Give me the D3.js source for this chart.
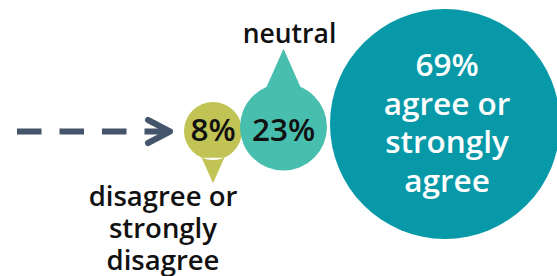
<!DOCTYPE html>
<html>
<head>
<meta charset="utf-8">
<script src="https://cdn.jsdelivr.net/npm/d3@7"></script>
<style>
  html, body { margin: 0; padding: 0; background: #fff; }
  svg { display: block; font-family: 'Open Sans', sans-serif; }
</style>
</head>
<body>
<div id="chart"></div>
<script>
// data
const categories = ['disagree', 'neutral', 'agree'];
const values = [8, 23, 69];
const labelLines = [
  ['disagree or', 'strongly', 'disagree'],
  ['neutral'],
  ['agree or', 'strongly', 'agree']
];
const colors = ['#c1c455', '#48bfae', '#0899a9'];

const width = 557, height = 276;

const svg = d3.select('#chart').append('svg')
  .attr('width', width)
  .attr('height', height);

// bubble size scale
const r = d3.scaleLinear().domain(values).range([29, 43.5, 115]);
const cyPos = [131, 127, 124];
const gaps = [-2, 3];

// pack circles left to right
const nodes = [];
let x0 = 184;
values.forEach(function (v, i) {
  const rad = r(v);
  const cx = x0 + rad;
  nodes.push({ cat: categories[i], value: v, r: rad, cx: cx, cy: cyPos[i], color: colors[i], lines: labelLines[i] });
  x0 = cx + rad + (gaps[i] || 0);
});

// pin shape: circle + pointer (dir: 1 down, -1 up, 0 none)
const pointerDir = [1, -1, 0];
function pinPath(d, dir) {
  const p = d3.path();
  p.arc(d.cx, d.cy, d.r, 0, Math.PI * 2);
  p.closePath();
  if (dir !== 0) {
    const a = 23 * Math.PI / 180;
    const tip = d.r * 1.8;
    p.moveTo(d.cx - d.r * Math.sin(a), d.cy + dir * d.r * Math.cos(a));
    p.lineTo(d.cx, d.cy + dir * tip);
    p.lineTo(d.cx + d.r * Math.sin(a), d.cy + dir * d.r * Math.cos(a));
    p.closePath();
  }
  return p.toString();
}

svg.selectAll('.bubble')
  .data(nodes)
  .enter().append('path')
  .attr('class', 'bubble')
  .attr('d', function (d, i) { return pinPath(d, pointerDir[i]); })
  .attr('fill', function (d) { return d.color; });

// percentage labels for the two small bubbles
svg.selectAll('.pct')
  .data(nodes.slice(0, 2))
  .enter().append('text')
  .attr('class', 'pct')
  .attr('x', function (d) { return d.cx; })
  .attr('y', 130)
  .attr('dy', '0.36em')
  .attr('text-anchor', 'middle')
  .attr('font-size', 31.5)
  .attr('font-weight', 600)
  .attr('fill', '#111')
  .text(function (d) { return d.value + '%'; });

// small bubble label below
const small = nodes[0];
const lowLabel = svg.append('text')
  .attr('text-anchor', 'middle')
  .attr('font-size', 27.5)
  .attr('font-weight', 600)
  .attr('fill', '#111');
small.lines.forEach(function (t, i) {
  lowLabel.append('tspan')
    .attr('x', 163)
    .attr('y', 206 + i * 32)
    .text(t);
});

// neutral label above
const mid = nodes[1];
svg.append('text')
  .attr('x', mid.cx + 6)
  .attr('y', 43)
  .attr('text-anchor', 'middle')
  .attr('font-size', 26.5)
  .attr('font-weight', 600)
  .attr('fill', '#111')
  .text(mid.lines[0]);

// big bubble: value and text inside
const big = nodes[2];
const bigLines = [big.value + '%'].concat(big.lines);
const bigText = svg.append('text')
  .attr('text-anchor', 'middle')
  .attr('font-size', 31.5)
  .attr('font-weight', 600)
  .attr('fill', '#fff');
bigLines.forEach(function (t, i) {
  bigText.append('tspan')
    .attr('x', big.cx + 2)
    .attr('y', 76 + i * 38.5)
    .text(t);
});

// dashed arrow pointing at the small bubble
const ay = 131.5;
const aEnd = small.cx - small.r - 14;
svg.append('line')
  .attr('x1', 17).attr('x2', aEnd - 1)
  .attr('y1', ay).attr('y2', ay)
  .attr('stroke', '#44546a')
  .attr('stroke-width', 6)
  .attr('stroke-dasharray', '24.5 18');
svg.append('path')
  .attr('d', d3.line()([[aEnd - 22, ay - 11.5], [aEnd, ay], [aEnd - 22, ay + 11.5]]))
  .attr('fill', 'none')
  .attr('stroke', '#44546a')
  .attr('stroke-width', 6)
  .attr('stroke-linecap', 'round')
  .attr('stroke-linejoin', 'round');
</script>
</body>
</html>
